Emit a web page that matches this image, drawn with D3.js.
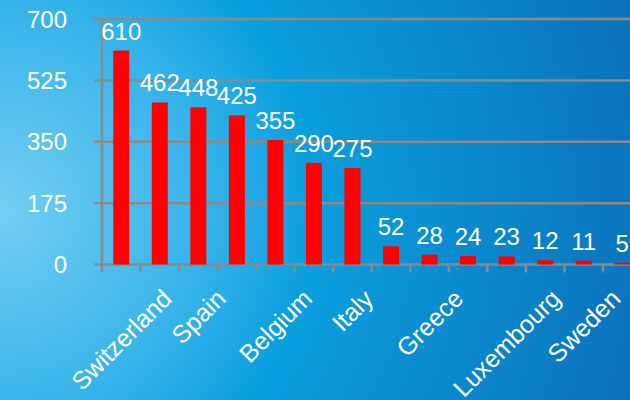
<!DOCTYPE html>
<html>
<head>
<meta charset="utf-8">
<script src="https://cdnjs.cloudflare.com/ajax/libs/d3/7.8.5/d3.min.js"></script>
<style>
  body { margin: 0; padding: 0; overflow: hidden; }
  svg { display: block; font-family: "Liberation Sans", Arial, sans-serif; }
</style>
</head>
<body>
<div class="plot"></div>
<script>
// data
// only every other category label is shown on the axis
const countries = ['Switzerland', '', 'Spain', '', 'Belgium', '', 'Italy', '', 'Greece', '', 'Luxembourg', '', 'Sweden', ''];
const values = [610, 462, 448, 425, 355, 290, 275, 52, 28, 24, 23, 12, 11, 5];
const yTicks = [0, 175, 350, 525, 700];

const width = 630, height = 400;

const svg = d3.select('.plot')
    .append('svg')
    .attr('width', width)
    .attr('height', height);

// background gradient, light on the left, darker blue to the right
const defs = svg.append('defs');
const grad = defs.append('radialGradient')
    .attr('id', 'bg')
    .attr('gradientUnits', 'userSpaceOnUse')
    .attr('cx', 0).attr('cy', 210).attr('r', 680);
grad.append('stop').attr('offset', 0).attr('stop-color', '#74cef3');
grad.append('stop').attr('offset', 0.3).attr('stop-color', '#36b3ea');
grad.append('stop').attr('offset', 0.46).attr('stop-color', '#0a9fde');
grad.append('stop').attr('offset', 0.95).attr('stop-color', '#0b73bd');
grad.append('stop').attr('offset', 1).attr('stop-color', '#0a6cb5');

svg.append('rect')
    .attr('width', width)
    .attr('height', height)
    .attr('fill', 'url(#bg)');

const idx = values.map((d, i) => i);

const xScale = d3.scaleBand().domain(idx).range([102, 641.5]).paddingInner(0.585).paddingOuter(0.2925);
const xStep = d3.scaleBand().domain(idx).range([102, 641.5]);
const yScale = d3.scaleLinear().domain([0, 700]).range([264.5, 19]);

const gray = '#8a8a8a';

// gridlines (also make the y ticks)
svg.append('g')
    .selectAll('line')
    .data(yTicks)
    .join('line')
    .attr('x1', 94).attr('x2', width)
    .attr('y1', d => yScale(d)).attr('y2', d => yScale(d))
    .attr('stroke', gray)
    .attr('stroke-width', 2.5);

// y axis labels
svg.append('g')
    .selectAll('text')
    .data(yTicks)
    .join('text')
    .attr('x', 67)
    .attr('y', d => yScale(d))
    .attr('dy', '0.36em')
    .attr('text-anchor', 'end')
    .attr('fill', '#fff')
    .attr('font-size', 24)
    .text(d => d);

// bars
svg.append('g')
    .selectAll('rect')
    .data(values)
    .join('rect')
    .attr('x', (d, i) => xScale(i))
    .attr('width', xScale.bandwidth())
    .attr('y', d => yScale(d))
    .attr('height', d => yScale(0) - yScale(d))
    .attr('fill', '#ff0000');

// y axis line
svg.append('line')
    .attr('x1', 102).attr('x2', 102)
    .attr('y1', yScale(700)).attr('y2', 272.5)
    .attr('stroke', gray)
    .attr('stroke-width', 2.5);

// x tick marks between categories
svg.append('g')
    .selectAll('line')
    .data(idx.slice(1))
    .join('line')
    .attr('x1', d => xStep(d)).attr('x2', d => xStep(d))
    .attr('y1', yScale(0)).attr('y2', 272.5)
    .attr('stroke', gray)
    .attr('stroke-width', 2.5);

// value labels
svg.append('g')
    .selectAll('text')
    .data(values)
    .join('text')
    .attr('x', (d, i) => xStep(i) + xStep.bandwidth() / 2)
    .attr('y', d => yScale(d) - 11)
    .attr('text-anchor', 'middle')
    .attr('fill', '#fff')
    .attr('font-size', 24)
    .text(d => d);

// rotated category labels, their box centred under the category
const labelTop = 284;
svg.append('g')
    .selectAll('text')
    .data(countries.map((c, i) => ({c, i})).filter(d => d.c !== ''))
    .join('text')
    .attr('fill', '#fff')
    .attr('font-size', 25)
    .text(d => d.c)
    .each(function(d) {
        const bb = this.getBBox();
        const side = (bb.width + bb.height) * Math.SQRT1_2;
        const cx = xStep(d.i) + xStep.bandwidth() / 2;
        const cy = labelTop + side / 2;
        d3.select(this).attr('transform',
            `translate(${cx},${cy}) rotate(-45) translate(${-bb.x - bb.width / 2},${-bb.y - bb.height / 2})`);
    });
</script>
</body>
</html>
